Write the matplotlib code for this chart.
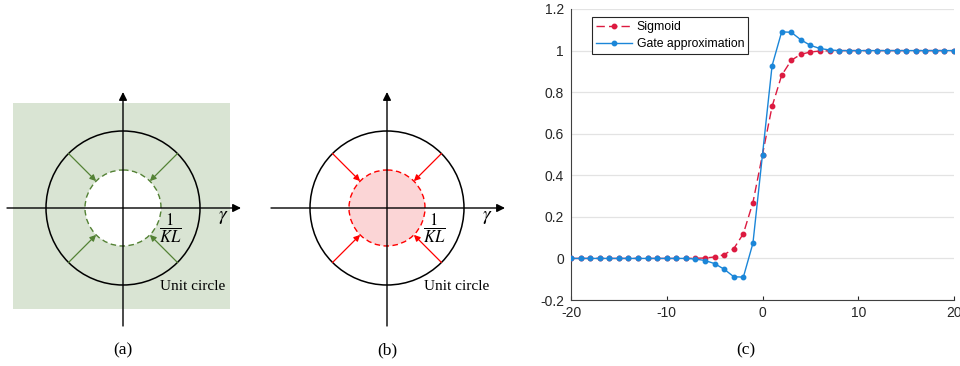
import matplotlib.pyplot as plt
import numpy as np

# data for panel (c)
x_vals = list(range(-20, 21))
sigmoid = [0.0, 0.0, 0.0, 0.0, 0.0, 0.0, 0.0, 0.0, 0.0, 0.0, 0.0, 0.0, 0.0,
           0.001, 0.002, 0.007, 0.018, 0.047, 0.119, 0.269, 0.5,
           0.731, 0.881, 0.953, 0.982, 0.993, 0.998, 0.999, 1.0, 1.0,
           1.0, 1.0, 1.0, 1.0, 1.0, 1.0, 1.0, 1.0, 1.0, 1.0, 1.0]
gate = [0.0, 0.0, 0.0, 0.0, 0.0, 0.0, 0.0, 0.0, 0.0, 0.0, 0.0, 0.0, 0.0,
        -0.003, -0.01, -0.025, -0.052, -0.088, -0.09, 0.073, 0.5,
        0.927, 1.09, 1.088, 1.052, 1.025, 1.01, 1.003, 1.0, 1.0,
        1.0, 1.0, 1.0, 1.0, 1.0, 1.0, 1.0, 1.0, 1.0, 1.0, 1.0]
y_ticks = [-0.2, 0, 0.2, 0.4, 0.6, 0.8, 1, 1.2]
x_ticks = [-20, -10, 0, 10, 20]
series_names = ['Sigmoid', 'Gate approximation']
captions = ['(a)', '(b)', '(c)']

RED = '#DC1A40'
BLUE = '#1B86D8'

plt.rcParams['mathtext.fontset'] = 'stix'
plt.rcParams['axes.unicode_minus'] = False

fig = plt.figure(figsize=(9.6, 3.66), dpi=100)

# ---- diagrams (a) and (b), drawn in pixel coordinates
dax = fig.add_axes([0, 0, 1, 1])
dax.set_xlim(0, 960)
dax.set_ylim(366, 0)
dax.axis('off')

R_UNIT = 77
R_IN = 38
CY = 208


def diagram(cx, inner_edge, inner_face, arrow_col, bg=None):
    if bg is not None:
        dax.add_patch(plt.Rectangle((cx - 110, 103), 217, 206, color=bg, lw=0, zorder=0))
        dax.add_patch(plt.Circle((cx, CY), R_IN, facecolor='white', lw=0, zorder=1))
    else:
        dax.add_patch(plt.Circle((cx, CY), R_IN, facecolor=inner_face, lw=0, zorder=1))
    dax.add_patch(plt.Circle((cx, CY), R_IN, fill=False, edgecolor=inner_edge,
                             lw=1.0, ls=(0, (4, 2.5)), zorder=3))
    dax.add_patch(plt.Circle((cx, CY), R_UNIT, fill=False, edgecolor='black', lw=1.1, zorder=3))
    # axes with arrows
    dax.annotate('', xy=(cx + 118, CY), xytext=(cx - 116, CY),
                 arrowprops=dict(arrowstyle='-|>', color='black', lw=1.0,
                                 mutation_scale=12, shrinkA=0, shrinkB=0), zorder=4)
    dax.annotate('', xy=(cx, 92), xytext=(cx, 326),
                 arrowprops=dict(arrowstyle='-|>', color='black', lw=1.0,
                                 mutation_scale=12, shrinkA=0, shrinkB=0), zorder=4)
    for ang in [45, 135, 225, 315]:
        c, s = np.cos(np.radians(ang)), -np.sin(np.radians(ang))
        dax.annotate('', xy=(cx + R_IN * c, CY + R_IN * s),
                     xytext=(cx + R_UNIT * c, CY + R_UNIT * s),
                     arrowprops=dict(arrowstyle='-|>', color=arrow_col, lw=0.9,
                                     mutation_scale=9, shrinkA=0, shrinkB=0), zorder=4)
    dax.text(cx + 47, CY + 20, r'$\dfrac{1}{KL}$', fontsize=12, ha='center', va='center', zorder=5)
    dax.text(cx + 100, CY + 9, r'$\gamma$', fontsize=14, ha='center', va='center', zorder=5)
    dax.text(cx + 70, CY + 79, 'Unit circle', family='Liberation Serif', fontsize=11,
             ha='center', va='center', zorder=5)


diagram(123, '#548235', None, '#548235', bg='#D9E4D3')
diagram(387, '#FF0000', '#FBD5D6', '#FF0000')

dax.text(123, 350, captions[0], family='Liberation Serif', fontsize=12.5, ha='center', va='center')
dax.text(387, 350, captions[1], family='Liberation Serif', fontsize=12.5, ha='center', va='center')
dax.text(746, 350, captions[2], family='Liberation Serif', fontsize=12.5, ha='center', va='center')

# ---- panel (c)
ax = fig.add_axes([571 / 960, 66 / 366, 383 / 960, 291 / 366])
ax.plot(x_vals, sigmoid, color=RED, ls=(0, (6, 3)), lw=1.0, marker='o', ms=3.2,
        label=series_names[0], zorder=3)
ax.plot(x_vals, gate, color=BLUE, lw=1.0, marker='o', ms=3.2,
        label=series_names[1], zorder=4)
ax.set_xlim(-20, 20)
ax.set_ylim(-0.2, 1.2)
ax.set_xticks(x_ticks)
ax.set_yticks(y_ticks)
ax.set_yticklabels(['%g' % v for v in y_ticks])
ax.yaxis.grid(True, color='#E3E3E3', lw=0.9)
ax.set_axisbelow(True)
for sp in ['top', 'right']:
    ax.spines[sp].set_visible(False)
for sp in ['left', 'bottom']:
    ax.spines[sp].set_color('#404040')
    ax.spines[sp].set_linewidth(0.8)
ax.tick_params(axis='x', labelsize=10, colors='#262626', length=3, width=0.8,
               direction='in', pad=4)
ax.tick_params(axis='y', labelsize=10, colors='#262626', length=0, pad=5)
for lbl in ax.get_xticklabels() + ax.get_yticklabels():
    lbl.set_family('Liberation Sans')
leg = ax.legend(loc='upper left', bbox_to_anchor=(0.045, 0.985), fancybox=False,
                edgecolor='#262626', framealpha=1, handlelength=2.9,
                prop={'family': 'Liberation Sans', 'size': 8.8}, borderpad=0.35,
                labelspacing=0.4, handletextpad=0.4, borderaxespad=0.3)
leg.get_frame().set_linewidth(0.8)

fig.savefig('out.png', dpi=100)
